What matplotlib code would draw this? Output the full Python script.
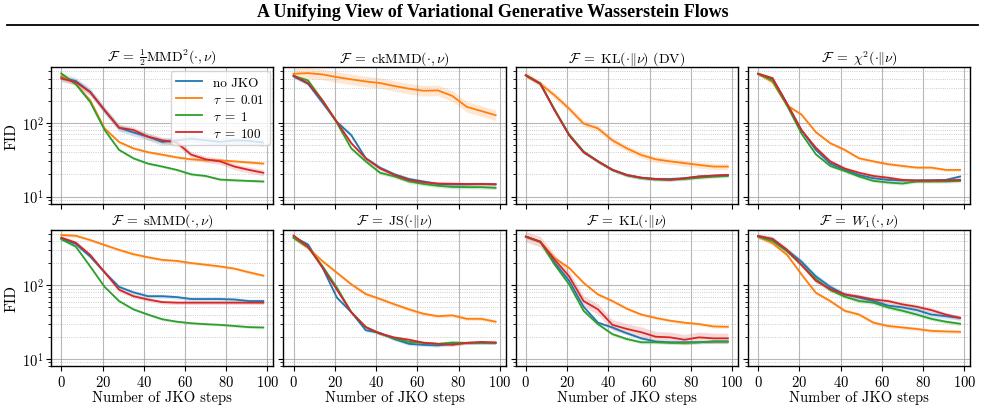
import numpy as np
import matplotlib
matplotlib.use("Agg")
import matplotlib.pyplot as plt
from matplotlib.lines import Line2D

plt.rcParams["font.family"] = "serif"
plt.rcParams["font.serif"] = ["cmr10"]
plt.rcParams["mathtext.fontset"] = "cm"
plt.rcParams["axes.formatter.use_mathtext"] = True

steps = [0, 7, 14, 21, 28, 35, 42, 49, 56, 63, 70, 77, 84, 91, 98]

labels = ["no JKO", r"$\tau \;=\; 0.01$", r"$\tau \;=\; 1$", r"$\tau \;=\; 100$"]
colors = ["tab:blue", "tab:orange", "tab:green", "tab:red"]

titles = [
    r"$\mathcal{F} \;=\; \frac{1}{2}\mathrm{MMD}^2(\cdot, \nu)$",
    r"$\mathcal{F} \;=\; \mathrm{ckMMD}(\cdot, \nu)$",
    r"$\mathcal{F} \;=\; \mathrm{KL}(\cdot \| \nu)$ (DV)",
    r"$\mathcal{F} \;=\; \chi^2(\cdot \| \nu)$",
    r"$\mathcal{F} \;=\; \mathrm{sMMD}(\cdot, \nu)$",
    r"$\mathcal{F} \;=\; \mathrm{JS}(\cdot \| \nu)$",
    r"$\mathcal{F} \;=\; \mathrm{KL}(\cdot \| \nu)$",
    r"$\mathcal{F} \;=\; W_1(\cdot, \nu)$",
]

# FID per panel, order: no JKO, tau=0.01, tau=1, tau=100
mmd_blue = [418, 370, 263, 148, 86, 74, 65, 55, 58, 61, 58, 55, 58, 57, 54]
mmd_orange = [440, 340, 202, 84, 55, 45, 40, 37, 34, 32, 31, 31, 30, 29, 28]
mmd_green = [470, 335, 192, 80, 43, 33, 28, 25.5, 23, 20, 19, 17, 16.6, 16.3, 16]
mmd_red = [400, 358, 262, 148, 86, 80, 65, 58, 54, 37, 32, 30, 25.5, 23, 21]

ck_blue = [427, 340, 188, 103, 68, 33, 24.6, 20, 17.3, 16, 14.8, 14.6, 14.6, 14.8, 14.6]
ck_orange = [464, 474, 455, 418, 390, 365, 347, 316, 291, 273, 276, 232, 165, 145, 127]
ck_green = [432, 377, 202, 100, 45, 30, 21, 18.7, 16, 14.8, 14, 13.5, 13.4, 13.4, 13.1]
ck_red = [440, 346, 202, 103, 53, 33, 24, 19.6, 16.8, 15.6, 15, 14.9, 14.8, 14.8, 14.7]

kldv_blue = [440, 340, 148, 68, 40, 30, 23, 19.6, 18, 17.3, 17.3, 17.7, 18.7, 19.2, 19.6]
kldv_orange = [450, 340, 236, 156, 98, 84, 58, 45, 36.6, 32, 30, 28.4, 26.8, 25.5, 25.5]
kldv_green = [445, 345, 150, 70, 41, 30, 23, 19.4, 17.8, 17, 17, 17.3, 18, 18.6, 19]
kldv_red = [440, 340, 148, 68, 40, 30, 23, 19.6, 18, 17.3, 16.8, 17.7, 18.7, 19.2, 19.6]

chi_blue = [464, 398, 183, 80, 43, 28, 23, 19.6, 17.7, 16.8, 16.5, 16.5, 16.6, 16.8, 18.7]
chi_orange = [464, 358, 173, 130, 75, 53, 43, 33, 30, 27.5, 26, 24.7, 24.7, 23, 23]
chi_green = [464, 377, 173, 72, 37.5, 26, 22.2, 18.7, 16.3, 15.5, 15, 16, 16, 16, 16.3]
chi_red = [464, 405, 183, 80, 46, 30, 24, 21, 19, 18, 16.8, 16.5, 16.5, 16.6, 16.8]

smmd_blue = [433, 363, 245, 150, 95, 80, 71, 71, 69, 65, 65, 65, 64, 61, 61]
smmd_orange = [480, 470, 411, 352, 302, 264, 240, 221, 214, 200, 190, 180, 168, 150, 135]
smmd_green = [420, 335, 180, 95, 61, 47, 40, 34.5, 32, 30.5, 29.6, 29, 28, 27, 26.7]
smmd_red = [442, 379, 258, 150, 87, 71, 64, 59, 58, 58, 58, 58, 58, 58, 58]

js_blue = [454, 358, 174, 68, 43, 24.5, 22.5, 18.5, 16, 15.5, 15.2, 16, 16.5, 16.5, 16.5]
js_orange = [440, 320, 213, 148, 103, 76, 65, 55, 47, 41, 38, 39, 35, 35, 32]
js_green = [440, 330, 182, 93, 43, 27, 22, 19, 17, 16.5, 16, 16.7, 16.5, 16.5, 16.5]
js_red = [473, 335, 174, 87, 43, 27, 22, 19.5, 18.2, 16.6, 16, 15.5, 16.5, 17, 16.7]

kl_blue = [457, 390, 202, 115, 51, 31, 26.7, 22.3, 19, 17.2, 16.8, 16.8, 16.8, 17.2, 17.2]
kl_orange = [457, 390, 233, 172, 108, 75, 61, 48, 40, 36, 33, 31, 29.7, 27.6, 27.3]
kl_green = [457, 390, 190, 103, 45, 29.6, 21.7, 18.6, 16.8, 16.8, 16.5, 16.5, 16.8, 17.2, 17.2]
kl_red = [457, 390, 222, 132, 61, 47, 29, 25.5, 23, 20, 19.6, 18.2, 19.6, 19, 19]

w1_blue = [465, 425, 302, 210, 132, 95, 75, 68, 61, 53, 50, 46, 40, 38, 36]
w1_orange = [457, 372, 260, 141, 79, 61, 45, 40, 31, 28, 26.7, 25.5, 24, 23.6, 23.3]
w1_green = [457, 400, 289, 190, 122, 86, 70, 61, 58, 50, 45, 40, 35, 32, 30]
w1_red = [465, 425, 302, 190, 115, 89, 75, 70, 64, 61, 55, 51, 46, 40, 36]

panels = [
    [mmd_blue, mmd_orange, mmd_green, mmd_red],
    [ck_blue, ck_orange, ck_green, ck_red],
    [kldv_blue, kldv_orange, kldv_green, kldv_red],
    [chi_blue, chi_orange, chi_green, chi_red],
    [smmd_blue, smmd_orange, smmd_green, smmd_red],
    [js_blue, js_orange, js_green, js_red],
    [kl_blue, kl_orange, kl_green, kl_red],
    [w1_blue, w1_orange, w1_green, w1_red],
]

# relative half-width of the shaded band per curve
spread = [
    [0.12, 0.05, 0.04, 0.10],
    [0.06, 0.18, 0.06, 0.05],
    [0.06, 0.10, 0.05, 0.04],
    [0.05, 0.05, 0.05, 0.06],
    [0.06, 0.05, 0.04, 0.06],
    [0.05, 0.06, 0.05, 0.05],
    [0.05, 0.05, 0.05, 0.18],
    [0.08, 0.06, 0.06, 0.07],
]

fig, axes = plt.subplots(2, 4, figsize=(9.85, 4.06), dpi=100, sharex=True, sharey=True)
fig.subplots_adjust(left=0.052, right=0.985, top=0.832, bottom=0.096, wspace=0.045, hspace=0.19)

x = np.array(steps)
for i, ax in enumerate(axes.flat):
    for j in range(4):
        y = np.array(panels[i][j], dtype=float)
        s = spread[i][j]
        ax.fill_between(x, y / (1 + s), y * (1 + s), color=colors[j], alpha=0.18, lw=0)
        ax.plot(x, y, color=colors[j], lw=1.3, label=labels[j])
    ax.set_yscale("log")
    ax.set_title(titles[i], fontsize=10, pad=4)
    ax.grid(which="major", color="#999999", lw=0.8, alpha=0.7)
    ax.grid(which="minor", color="#bbbbbb", lw=0.6, ls=":")
    ax.tick_params(labelsize=10.5, pad=2)
    for sp in ax.spines.values():
        sp.set_linewidth(1.0)

axes[0, 0].set_ylim(8, 570)
axes[0, 0].set_xticks([0, 20, 40, 60, 80, 100])
for ax in axes[:, 0]:
    ax.set_ylabel("FID", fontsize=11, labelpad=2)
for ax in axes[1, :]:
    ax.set_xlabel("Number of JKO steps", fontsize=10.5, labelpad=1)

axes[0, 0].legend(loc="upper right", fontsize=9.5, framealpha=0.8, borderaxespad=0.3,
                  handlelength=2.0, labelspacing=0.3)

fig.text(0.5, 0.968, "A Unifying View of Variational Generative Wasserstein Flows",
         family="Liberation Serif", weight="bold", fontsize=13, ha="center", va="center")
fig.add_artist(Line2D([0.007, 0.993], [0.937, 0.937], transform=fig.transFigure,
                      color="black", lw=1.3))

fig.savefig("out.png", dpi=100)
